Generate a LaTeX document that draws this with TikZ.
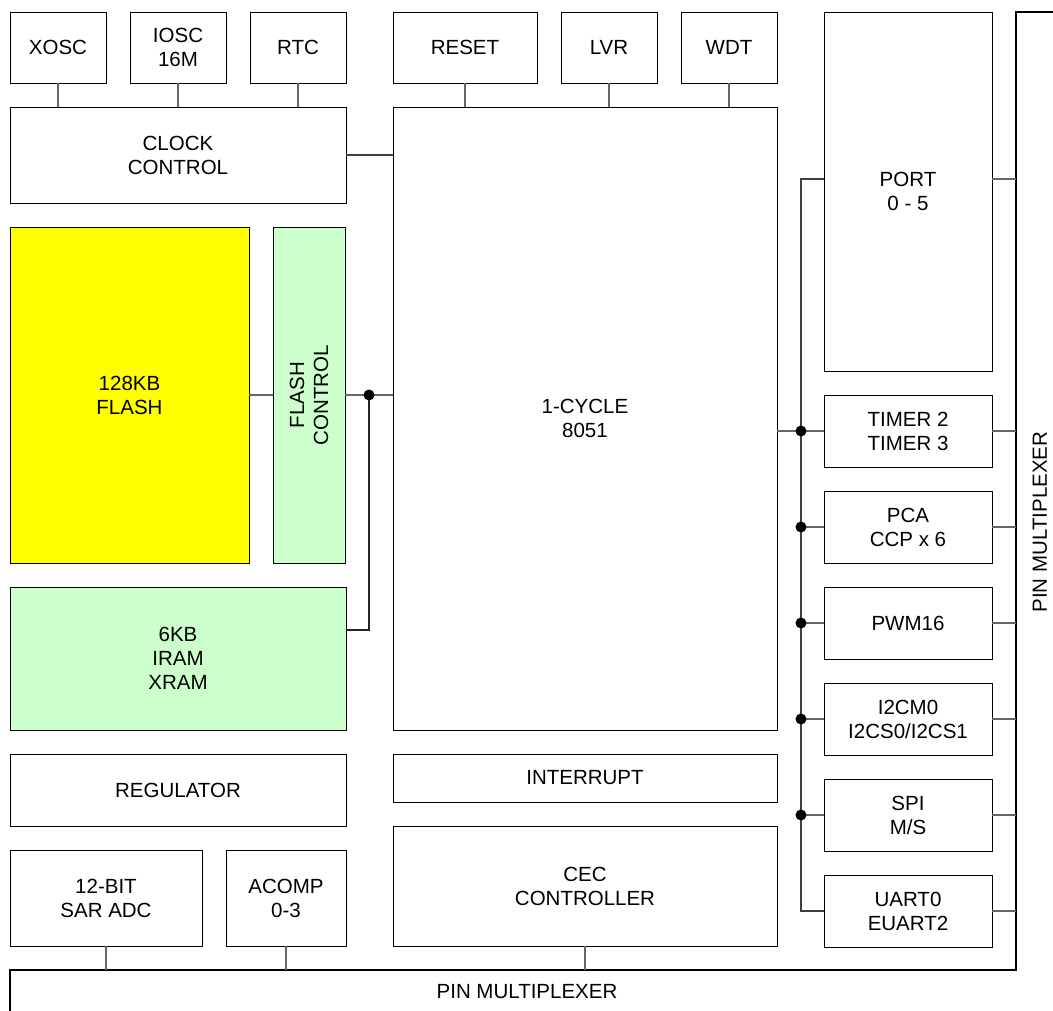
\documentclass[tikz,border=0pt]{standalone}
\usepackage{fontspec}
\setmainfont{Liberation Sans}
\begin{document}
\begin{tikzpicture}[x=1pt,y=-1pt,
  every node/.style={font=\fontsize{20.5}{24}\selectfont, align=center, inner sep=0pt},
  blk/.style={draw=black, line width=0.9pt, rectangle, minimum width=#1},
  blk/.default=96,
  conn/.style={draw=black!60, line width=1.4pt},
  bus/.style={draw=black!75, line width=1.2pt},
  pmux/.style={draw=black, line width=2.2pt},
  dotc/.style={circle, fill=black, minimum size=11pt, inner sep=0pt, draw=none}]
\useasboundingbox (0,0) rectangle (1053,1011);
% top row
\node[blk, minimum height=71] (xosc) at (58,47.5) {XOSC};
\node[blk, minimum height=71] (iosc) at (178,47.5) {IOSC\\16M};
\node[blk, minimum height=71] (rtc) at (298,47.5) {RTC};
\node[blk=336, minimum height=96] (clk) at (178,155) {CLOCK\\CONTROL};
\node[blk=144, minimum height=71] (reset) at (465,47.5) {RESET};
\node[blk, minimum height=71] (lvr) at (609,47.5) {LVR};
\node[blk, minimum height=71] (wdt) at (729,47.5) {WDT};
\node[blk=384, minimum height=623] (cpu) at (585,418.5) {1-CYCLE\\8051};
% left memory
\node[blk=239, minimum height=336, fill={rgb,255:red,255;green,255;blue,0}] (flash) at (129.5,395) {128KB\\FLASH};
\node[blk=72, minimum height=336, fill={rgb,255:red,204;green,255;blue,204}] (fctl) at (309,395) {};
\node[rotate=90] (fctltxt) at (fctl.center) {FLASH\\CONTROL};
\node[blk=336, minimum height=143, fill={rgb,255:red,204;green,255;blue,204}] (ram) at (178,658.5) {6KB\\IRAM\\XRAM};
\node[blk=336, minimum height=72] (reg) at (178,790) {REGULATOR};
\node[blk=384, minimum height=48] (intr) at (585,778) {INTERRUPT};
\node[blk=384, minimum height=120] (cec) at (585,886) {CEC\\CONTROLLER};
\node[blk=192, minimum height=96] (adc) at (106,898) {12-BIT\\SAR ADC};
\node[blk=120, minimum height=96] (acomp) at (286,898) {ACOMP\\0-3};
% right peripherals
\node[blk=168, minimum height=359] (port) at (908,191.5) {PORT\\0 - 5};
\node[blk=168, minimum height=72] (tmr) at (908,431) {TIMER 2\\TIMER 3};
\node[blk=168, minimum height=72] (pca) at (908,527) {PCA\\CCP x 6};
\node[blk=168, minimum height=72] (pwm) at (908,623) {PWM16};
\node[blk=168, minimum height=72] (i2c) at (908,719) {I2CM0\\I2CS0/I2CS1};
\node[blk=168, minimum height=72] (spi) at (908,815) {SPI\\M/S};
\node[blk=168, minimum height=72] (uart) at (908,911) {UART0\\EUART2};
% clock connectors
\draw[conn] (xosc.south) -- (xosc.south |- clk.north);
\draw[conn] (iosc.south) -- (iosc.south |- clk.north);
\draw[conn] (rtc.south) -- (rtc.south |- clk.north);
\draw[conn] (reset.south) -- (reset.south |- cpu.north);
\draw[conn] (lvr.south) -- (lvr.south |- cpu.north);
\draw[conn] (wdt.south) -- (wdt.south |- cpu.north);
\draw[bus] (clk.east) -- (clk.east -| cpu.west);
% flash / ram
\coordinate (fj) at (369,395);
\draw[conn] (flash.east) -- (fctl.west);
\draw[conn] (fctl.east) -- (fj);
\draw[conn] (fj) -- (fj -| cpu.west);
\coordinate (rj) at (369,630);
\draw[bus, line width=1.8pt, draw=black!85] (fj) -- (rj) -- (rj -| ram.east);
\node[dotc] (fdot) at (fj) {};
% peripheral bus
\coordinate (bt) at (801,179);
\coordinate (bb) at (801,911);
\draw[bus] (bt -| port.west) -- (bt) -- (bb) -- (uart.west);
\draw[conn] (cpu.east |- tmr.west) -- (tmr.west);
\draw[conn] (801,527) -- (pca.west);
\draw[conn] (801,623) -- (pwm.west);
\draw[conn] (801,719) -- (i2c.west);
\draw[conn] (801,815) -- (spi.west);
\node[dotc] (d1) at (801,431) {};
\node[dotc] (d2) at (801,527) {};
\node[dotc] (d3) at (801,623) {};
\node[dotc] (d4) at (801,719) {};
\node[dotc] (d5) at (801,815) {};
% pin multiplexer outline
\coordinate (pm1) at (1053,12);
\coordinate (pm2) at (1016,12);
\coordinate (pm3) at (1016,970);
\coordinate (pm4) at (10,970);
\coordinate (pm5) at (10,1011);
\draw[pmux] (pm1) -- (pm2) -- (pm3) -- (pm4) -- (pm5);
\draw[conn] (port.east |- bt) -- (pm2 |- bt);
\draw[conn] (tmr.east) -- (tmr.east -| pm2);
\draw[conn] (pca.east) -- (pca.east -| pm2);
\draw[conn] (pwm.east) -- (pwm.east -| pm2);
\draw[conn] (i2c.east) -- (i2c.east -| pm2);
\draw[conn] (spi.east) -- (spi.east -| pm2);
\draw[conn] (uart.east) -- (uart.east -| pm2);
\draw[conn] (adc.south) -- (adc.south |- pm4);
\draw[conn] (acomp.south) -- (acomp.south |- pm4);
\draw[conn] (cec.south) -- (cec.south |- pm4);
\node (pmb) at (527,992) {PIN MULTIPLEXER};
\node[rotate=90] (pmr) at (1040,522) {PIN MULTIPLEXER};
\end{tikzpicture}
\end{document}
